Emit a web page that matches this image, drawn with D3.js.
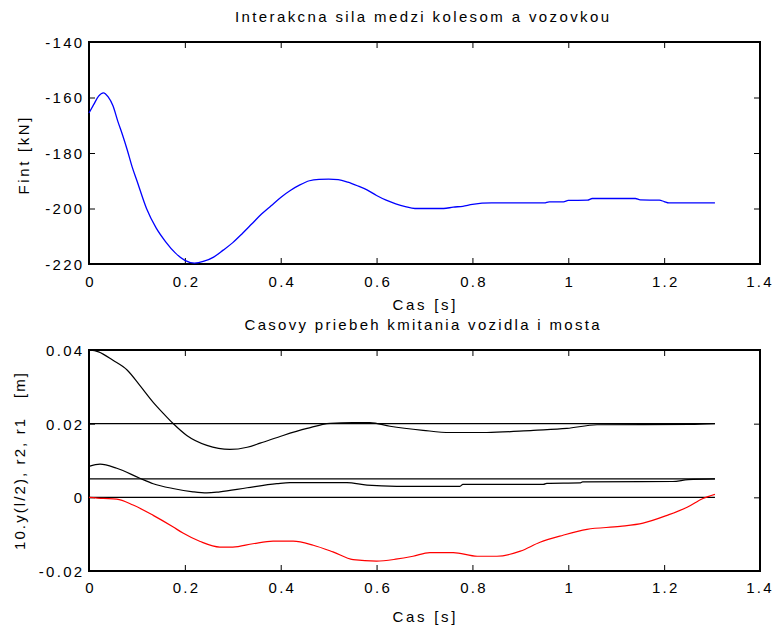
<!DOCTYPE html>
<html><head><meta charset="utf-8">
<script src="https://cdn.jsdelivr.net/npm/d3@7"></script>
<style>
body{margin:0;background:#fff;}
text{font-family:"Liberation Sans",Arial,sans-serif;fill:#000;white-space:pre;}
</style></head>
<body>
<svg id="c" width="774" height="630"></svg>
<script>
// ---- data ----
const tForce = [0,0.01,0.02,0.03,0.04,0.05,0.06,0.07,0.08,0.09,0.10,0.12,0.14,0.16,0.18,0.20,0.22,0.24,0.26,0.28,0.30,0.32,0.34,0.36,0.38,0.40,0.42,0.44,0.46,0.48,0.50,0.52,0.54,0.56,0.58,0.60,0.62,0.64,0.66,0.68,0.70,0.72,0.74,0.76,0.78,0.80,0.84,0.88,0.92,0.95,0.96,0.99,1.00,1.04,1.05,1.10,1.14,1.15,1.19,1.20,1.21,1.25,1.306];
const force = [-165.6,-162.5,-159.5,-158.3,-159.8,-163,-168.5,-173.5,-179,-185,-190,-200,-207,-212,-216,-218.7,-219.7,-219,-217.5,-215,-212.3,-209,-205.5,-202,-199,-196,-193.5,-191.5,-190,-189.5,-189.4,-189.6,-190.5,-191.8,-193.3,-195.3,-197,-198.3,-199.3,-200,-200,-200,-200,-199.5,-199.2,-198.5,-198,-198,-198,-198,-197.6,-197.6,-197.1,-197,-196.4,-196.4,-196.4,-196.9,-197,-197.5,-198,-198,-198];

const tR1 = [0,0.02,0.05,0.08,0.106,0.134,0.155,0.175,0.204,0.246,0.294,0.33,0.357,0.405,0.455,0.503,0.55,0.586,0.628,0.697,0.753,0.83,0.927,0.997,1.06,1.254,1.306];
const r1 = [0.04,0.0395,0.0372,0.0345,0.0304,0.0258,0.0228,0.0201,0.0168,0.0141,0.013,0.0136,0.0147,0.0168,0.0187,0.0201,0.0203,0.0203,0.0193,0.0182,0.0176,0.0176,0.0182,0.0187,0.0197,0.0198,0.02];

const tR2 = [0,0.023,0.058,0.106,0.134,0.175,0.217,0.246,0.273,0.33,0.392,0.419,0.538,0.58,0.642,0.774,0.78,0.948,0.955,1.024,1.03,1.218,1.25,1.306];
const r2 = [0.0084,0.009,0.0079,0.0052,0.0037,0.0024,0.0015,0.0012,0.0015,0.0026,0.0037,0.004,0.004,0.0033,0.003,0.003,0.0035,0.0035,0.0038,0.0039,0.0042,0.0043,0.0048,0.005];

const tY = [0,0.03,0.058,0.092,0.134,0.175,0.196,0.232,0.273,0.30,0.342,0.384,0.426,0.468,0.509,0.551,0.6,0.64,0.676,0.711,0.76,0.81,0.851,0.9,0.941,0.989,1.039,1.108,1.156,1.206,1.248,1.281,1.306];
const y10 = [0,-0.0003,-0.0005,-0.0021,-0.0049,-0.008,-0.0097,-0.012,-0.0135,-0.0135,-0.0126,-0.0119,-0.0119,-0.013,-0.0148,-0.0169,-0.0173,-0.0168,-0.016,-0.015,-0.015,-0.016,-0.016,-0.0146,-0.0122,-0.0103,-0.0087,-0.0079,-0.007,-0.0049,-0.0027,-0.0003,0.0008];

const refLevels = [0.02, 0.005, 0];
const refSpan = [0, 1.306];

const xTicks = [0,0.2,0.4,0.6,0.8,1,1.2,1.4];
const yTicksTop = [-140,-160,-180,-200,-220];
const yTicksBot = [0.04,0.02,0,-0.02];

// ---- layout ----
const svg = d3.select("#c");
const L = 89, R = 760;
const LS = 2.3, FS = 15;

function panel(top, bottom, yDomain, yTicks, xPad) {
  const x = d3.scaleLinear().domain([0,1.4]).range([L,R]);
  const y = d3.scaleLinear().domain(yDomain).range([bottom, top]);
  const g = svg.append("g");
  const fmt = d => String(d);
  const ax = g.append("g").attr("transform",`translate(0,${bottom})`)
    .call(d3.axisBottom(x).tickValues(xTicks).tickFormat(fmt).tickSizeInner(-6).tickSizeOuter(0).tickPadding(xPad));
  g.append("g").attr("transform",`translate(0,${top})`)
    .call(d3.axisTop(x).tickValues(xTicks).tickFormat("").tickSizeInner(-6).tickSizeOuter(0));
  const ay = g.append("g").attr("transform",`translate(${L},0)`)
    .call(d3.axisLeft(y).tickValues(yTicks).tickFormat(fmt).tickSizeInner(-6).tickSizeOuter(0).tickPadding(4.5));
  g.append("g").attr("transform",`translate(${R},0)`)
    .call(d3.axisRight(y).tickValues(yTicks).tickFormat("").tickSizeInner(-6).tickSizeOuter(0));
  g.selectAll(".domain").remove();
  g.selectAll(".tick line").attr("stroke","#000").attr("stroke-width",1);
  g.selectAll(".tick text").attr("font-size",FS).attr("font-family","Liberation Sans, Arial, sans-serif")
    .style("letter-spacing",LS+"px").attr("fill","#000");
  ax.selectAll(".tick text").attr("dx", (d,i,n)=> i===n.length-1 ? -0.5 : LS/2);
  ay.selectAll(".tick text").attr("dy","0.36em");
  g.append("rect").attr("x",L).attr("y",top).attr("width",R-L).attr("height",bottom-top)
    .attr("fill","none").attr("stroke","#000").attr("stroke-width",2);
  return {x,y,g};
}

// Top panel
const p1 = panel(42, 264, [-220,-140], yTicksTop, 12.3);
const lineF = d3.line().curve(d3.curveMonotoneX).x((d,i)=>p1.x(tForce[i])).y(d=>p1.y(d));
p1.g.append("path").datum(force).attr("d",lineF).attr("fill","none").attr("stroke","#0000ff").attr("stroke-width",1.3);

// Bottom panel
const p2 = panel(350, 571, [-0.02,0.04], yTicksBot, 11.3);
refLevels.forEach(v=>{
  p2.g.append("line").attr("x1",p2.x(refSpan[0])).attr("x2",p2.x(refSpan[1]))
    .attr("y1",p2.y(v)).attr("y2",p2.y(v)).attr("stroke","#000").attr("stroke-width",1.2);
});
function series(ts, vs, color){
  const ln = d3.line().curve(d3.curveMonotoneX).x((d,i)=>p2.x(ts[i])).y(d=>p2.y(d));
  p2.g.append("path").datum(vs).attr("d",ln).attr("fill","none").attr("stroke",color).attr("stroke-width",1.2);
}
series(tR1, r1, "#000");
series(tR2, r2, "#000");
series(tY, y10, "#ff0000");

// Texts
function label(txt, x, y, len, rot){
  const t = svg.append("text").attr("font-size",FS).attr("text-anchor","middle")
    .attr("xml:space","preserve")
    .attr("textLength",len).attr("lengthAdjust","spacing").text(txt);
  if (rot) t.attr("transform",`translate(${x},${y}) rotate(-90)`);
  else t.attr("x",x).attr("y",y);
  return t;
}
label("Interakcna sila medzi kolesom a vozovkou", 422, 22, 374);
label("Cas [s]", 424, 310, 63);
label("Fint [kN]", 28.5, 156, 77, true);
label("Casovy priebeh kmitania vozidla i mosta", 422, 330, 355);
label("Cas [s]", 424, 622, 63);
label("10.y(l/2), r2, r1   [m]", 25, 461.5, 177, true);
</script>
</body></html>
